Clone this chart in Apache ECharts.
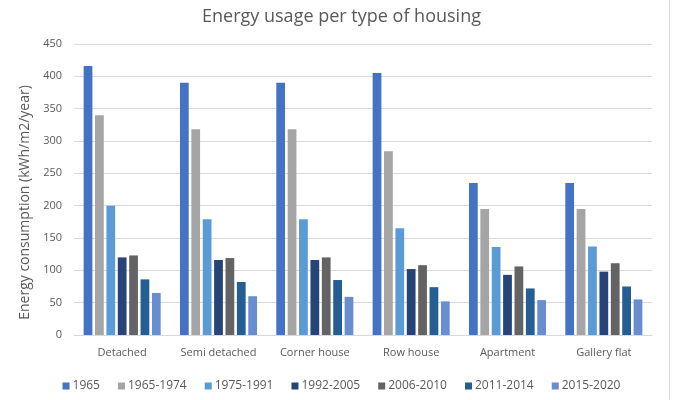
<!DOCTYPE html>
<html>
<head>
<meta charset="utf-8">
<script src="https://cdn.jsdelivr.net/npm/echarts@6/dist/echarts.min.js"></script>
<style>
  html, body { margin: 0; padding: 0; background: #fff; }
  #chart { width: 683px; height: 400px; }
</style>
</head>
<body>
<div id="chart"></div>
<script>
// housing types on the x axis
const categories = ['Detached', 'Semi detached', 'Corner house', 'Row house', 'Apartment', 'Gallery flat']
// construction periods (one series each)
const periods = ['1965', '1965-1974', '1975-1991', '1992-2005', '2006-2010', '2011-2014', '2015-2020']
// kWh/m2/year
const v1965 = [416, 390, 390, 405, 235, 235]
const v1965_1974 = [340, 318, 318, 284, 195, 195]
const v1975_1991 = [200, 179, 179, 165, 136, 137]
const v1992_2005 = [120, 116, 116, 102, 93, 98]
const v2006_2010 = [123, 119, 120, 108, 106, 111]
const v2011_2014 = [86, 82, 85, 74, 72, 75]
const v2015_2020 = [65, 60, 59, 52, 54, 55]
const yTicks = [0, 50, 100, 150, 200, 250, 300, 350, 400, 450]

const values = [v1965, v1965_1974, v1975_1991, v1992_2005, v2006_2010, v2011_2014, v2015_2020]
const colors = ['#4472C4', '#A5A5A5', '#5B9BD5', '#264478', '#636363', '#255E91', '#698ED0']

const font = '"Open Sans", sans-serif'
const chart = echarts.init(document.getElementById('chart'))

chart.setOption({
  animation: false,
  color: colors,
  title: {
    text: 'Energy usage per type of housing',
    left: 'center',
    top: 3,
    textStyle: { fontFamily: font, fontSize: 18, fontWeight: 'normal', color: '#595959' }
  },
  legend: {
    data: periods,
    left: 'center',
    top: 375,
    itemWidth: 7,
    itemHeight: 7,
    itemGap: 18,
    icon: 'rect',
    textStyle: { fontFamily: font, fontSize: 12, color: '#595959', padding: [0, 0, 0, -2] }
  },
  grid: { left: 74, right: 31, top: 44, bottom: 65 },
  xAxis: {
    type: 'category',
    data: categories,
    axisLine: { lineStyle: { color: '#d9d9d9' } },
    axisTick: { show: false },
    axisLabel: { interval: 0, fontFamily: font, fontSize: 11, color: '#595959', margin: 12 }
  },
  yAxis: {
    type: 'value',
    min: yTicks[0],
    max: yTicks[yTicks.length - 1],
    interval: 50,
    name: 'Energy consumption (kWh/m2/year)',
    nameLocation: 'middle',
    nameGap: 40,
    nameTextStyle: { fontFamily: font, fontSize: 14, color: '#595959', padding: [0, 26, 0, 0] },
    axisLine: { show: false },
    axisTick: { show: false },
    splitLine: { lineStyle: { color: '#d9d9d9' } },
    axisLabel: { fontFamily: font, fontSize: 11, color: '#595959', margin: 12 }
  },
  graphic: [{
    type: 'line',
    shape: { x1: 669.5, y1: 0, x2: 669.5, y2: 400 },
    style: { stroke: '#d9d9d9', lineWidth: 1 }
  }],
  series: periods.map((p, i) => ({
    name: p,
    type: 'bar',
    data: values[i],
    barGap: '30%',
    barCategoryGap: '20%'
  }))
})
</script>
</body>
</html>
